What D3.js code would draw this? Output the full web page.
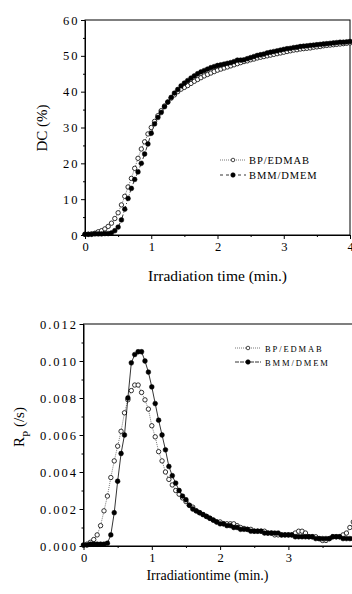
<!DOCTYPE html>
<html>
<head>
<meta charset="utf-8">
<script src="https://cdn.jsdelivr.net/npm/d3@7/dist/d3.min.js"></script>
<style>
  body { margin: 0; background: #fff; }
  svg { display: block; }
  svg text { font-family: "Liberation Serif", "DejaVu Serif", "Times New Roman", serif !important; fill: #000; }
</style>
</head>
<body>
<svg id="chart" width="352" height="594"></svg>
<script>
// sampling times (min.)
const times = [
  0, 0.05, 0.1, 0.15, 0.2, 0.25, 0.3, 0.35, 0.4, 0.45,
  0.5, 0.55, 0.6, 0.65, 0.7, 0.75, 0.8, 0.85, 0.9, 0.95,
  1.0, 1.05, 1.1, 1.15, 1.2, 1.25, 1.3, 1.35, 1.4, 1.45,
  1.5, 1.55, 1.6, 1.65, 1.7, 1.75, 1.8, 1.85, 1.9, 1.95,
  2.0, 2.05, 2.1, 2.15, 2.2, 2.25, 2.3, 2.35, 2.4, 2.45,
  2.5, 2.55, 2.6, 2.65, 2.7, 2.75, 2.8, 2.85, 2.9, 2.95,
  3.0, 3.05, 3.1, 3.15, 3.2, 3.25, 3.3, 3.35, 3.4, 3.45,
  3.5, 3.55, 3.6, 3.65, 3.7, 3.75, 3.8, 3.85, 3.9, 3.95,
  4.0
];

const seriesNames = ['BP/EDMAB', 'BMM/DMEM'];

// degree of conversion DC (%)
const dcBP = [
  0.2, 0.2, 0.3, 0.5, 0.9, 1.2, 1.7, 2.4, 3.3, 4.6,
  6.2, 8.4, 10.8, 13.4, 15.8, 18.6, 21.4, 24.0, 26.0, 28.2,
  30.0, 31.7, 33.3, 34.7, 36.0, 37.1, 38.2, 39.1, 40.0, 40.7,
  41.2, 41.7, 42.3, 42.9, 43.4, 43.9, 44.4, 44.8, 45.2, 45.6,
  46.0, 46.3, 46.6, 46.9, 47.2, 47.5, 47.8, 48.1, 48.4, 48.6,
  48.9, 49.1, 49.4, 49.6, 49.8, 50.0, 50.2, 50.4, 50.6, 50.8,
  51.0, 51.2, 51.4, 51.6, 51.7, 51.9, 52.0, 52.1, 52.2, 52.4,
  52.5, 52.6, 52.8, 52.9, 53.0, 53.1, 53.2, 53.3, 53.4, 53.5,
  53.6
];
const dcBMM = [
  0.2, 0.2, 0.2, 0.3, 0.3, 0.3, 0.4, 0.4, 0.6, 1.2,
  2.2, 4.2, 7.2, 10.2, 13.0, 15.5, 17.6, 20.0, 22.6, 25.4,
  28.4, 31.0, 32.8, 34.2, 35.8, 37.1, 38.4, 39.6, 40.6, 41.6,
  42.4, 43.1, 43.8, 44.4, 45.0, 45.5, 45.9, 46.3, 46.7, 47.0,
  47.3, 47.5, 47.7, 47.9, 48.1, 48.4, 48.8, 48.8, 48.9, 49.2,
  49.5, 49.8, 50.1, 50.3, 50.5, 50.8, 51.0, 51.2, 51.4, 51.6,
  51.8, 52.0, 52.1, 52.3, 52.4, 52.6, 52.7, 52.8, 52.9, 53.0,
  53.1, 53.2, 53.3, 53.4, 53.5, 53.6, 53.7, 53.8, 53.8, 53.9,
  54.0
];

// polymerization rate Rp (/s)
const rpBP = [
  0.00005, 0.0001, 0.0002, 0.00035, 0.0006, 0.0011, 0.0019, 0.0027, 0.0037, 0.0046,
  0.0054, 0.0062, 0.0072, 0.0079, 0.0084, 0.0087, 0.0087, 0.0083, 0.0079, 0.0074,
  0.0065, 0.0059, 0.0051, 0.0046, 0.0040, 0.0036, 0.0033, 0.0030, 0.0028, 0.0026,
  0.0024, 0.0022, 0.0021, 0.0019, 0.0018, 0.0017, 0.0016, 0.0015, 0.0014, 0.0013,
  0.0013, 0.0012, 0.0012, 0.0012, 0.0012, 0.0011, 0.0010, 0.00095, 0.0009, 0.0009,
  0.0008, 0.0008, 0.0008, 0.0008, 0.0007, 0.0007, 0.0006, 0.0006, 0.0006, 0.0006,
  0.0006, 0.0006, 0.0007, 0.0008, 0.0008, 0.0007, 0.0005, 0.0005, 0.0005, 0.0004,
  0.0003, 0.0003, 0.0004, 0.0005, 0.0005, 0.0005, 0.0006, 0.0007, 0.0010, 0.0013,
  0.0016
];
const rpBMM = [
  0.00005, 0.00005, 0.0001, 0.0001, 0.0001, 0.0001, 0.0001, 0.00015, 0.0006, 0.0018,
  0.0035, 0.0050, 0.0060, 0.0080, 0.0099, 0.01035, 0.0105, 0.0105, 0.0100, 0.0094,
  0.0086, 0.0077, 0.0068, 0.0060, 0.0052, 0.0043, 0.0038, 0.0034, 0.0030, 0.0027,
  0.0025, 0.0022, 0.0020, 0.0019, 0.0018, 0.0017, 0.0016, 0.0015, 0.0014, 0.0013,
  0.0012, 0.0012, 0.0011, 0.0011, 0.0010, 0.0010, 0.0009, 0.0009, 0.0009, 0.0008,
  0.0008, 0.0008, 0.0008, 0.0007, 0.0007, 0.0007, 0.0007, 0.0007, 0.0006, 0.0006,
  0.0006, 0.0006, 0.0005, 0.0005, 0.0005, 0.0005, 0.0005, 0.0005, 0.0004, 0.0004,
  0.0004, 0.0004, 0.0004, 0.0005, 0.0005, 0.0005, 0.0004, 0.0004, 0.0004, 0.0004,
  0.0004
];

const dcTicks = [0, 10, 20, 30, 40, 50, 60];
const rpTicks = [0, 0.002, 0.004, 0.006, 0.008, 0.010, 0.012];
const timeTicks = [0, 1, 2, 3, 4];

const svg = d3.select('#chart');

function drawPanel(opts) {
  const x = d3.scaleLinear().domain([0, 4]).range([opts.left, opts.right]);
  const y = d3.scaleLinear().domain(opts.yDomain).range([opts.bottom, opts.top]);
  const g = svg.append('g');

  // frame
  g.append('rect')
    .attr('x', opts.left).attr('y', opts.top)
    .attr('width', opts.right - opts.left).attr('height', opts.bottom - opts.top)
    .attr('fill', 'none').attr('stroke', '#000').attr('stroke-width', 1);

  // minor ticks
  g.append('g')
    .attr('transform', `translate(0,${opts.bottom})`)
    .call(d3.axisBottom(x).tickValues([0.5, 1.5, 2.5, 3.5]).tickSize(2).tickFormat(''))
    .call(a => a.select('.domain').remove());
  g.append('g')
    .attr('transform', `translate(${opts.left},0)`)
    .call(d3.axisLeft(y).tickValues(opts.yMinor).tickSize(2).tickFormat(''))
    .call(a => a.select('.domain').remove());

  // major axes
  const xa = g.append('g')
    .attr('transform', `translate(0,${opts.bottom})`)
    .call(d3.axisBottom(x).tickValues(timeTicks).tickSize(4).tickSizeOuter(0).tickPadding(3)
      .tickFormat(d3.format('d')));
  const ya = g.append('g')
    .attr('transform', `translate(${opts.left},0)`)
    .call(d3.axisLeft(y).tickValues(opts.yTicks).tickSize(4).tickSizeOuter(0).tickPadding(1.5)
      .tickFormat(opts.yFormat));
  [xa, ya].forEach(a => {
    a.attr('font-family', null);
    a.selectAll('text').style('font-size', '12.5px').style('letter-spacing', '2px');
    a.selectAll('line, path').attr('stroke', '#000');
  });
  xa.selectAll('text').attr('dx', '1px');

  // series
  const clipId = 'clip' + opts.id;
  svg.append('clipPath').attr('id', clipId).append('rect')
    .attr('x', opts.left - 4).attr('y', opts.top - 4)
    .attr('width', opts.right - opts.left + 8).attr('height', opts.bottom - opts.top + 8);
  const plot = g.append('g').attr('clip-path', `url(#${clipId})`);

  opts.series.forEach((s, si) => {
    const pts = times.map((t, i) => ({ t, v: s.values[i] }));
    plot.append('path')
      .datum(pts)
      .attr('fill', 'none')
      .attr('stroke', s.lineColor)
      .attr('stroke-width', 0.8)
      .attr('stroke-dasharray', s.dash)
      .attr('d', d3.line().x(d => x(d.t)).y(d => y(d.v)));
    plot.selectAll('.m' + si)
      .data(pts)
      .enter().append('circle')
      .attr('cx', d => x(d.t))
      .attr('cy', d => y(d.v))
      .attr('r', s.filled ? 2.4 : 2.2)
      .attr('fill', s.filled ? '#000' : '#fff')
      .attr('stroke', '#000')
      .attr('stroke-width', s.filled ? 0.5 : 0.8);
  });

  // legend
  opts.series.forEach((s, si) => {
    const ly = opts.legend.y + si * opts.legend.dy;
    const lx = opts.legend.x;
    g.append('line')
      .attr('x1', lx).attr('x2', lx + 26).attr('y1', ly).attr('y2', ly)
      .attr('stroke', s.lineColor).attr('stroke-width', 0.8)
      .attr('stroke-dasharray', s.legendDash);
    g.append('circle')
      .attr('cx', lx + 13).attr('cy', ly)
      .attr('r', s.filled ? 2.2 : 1.8)
      .attr('fill', s.filled ? '#000' : '#fff')
      .attr('stroke', '#000').attr('stroke-width', 0.7);
    g.append('text')
      .attr('x', lx + opts.legend.textGap).attr('y', ly + 3.5)
      .style('font-size', opts.legend.fontSize + 'px')
      .style('letter-spacing', opts.legend.spacing + 'px')
      .text(seriesNames[si]);
  });

  return { x, y, g };
}

// top panel: DC (%)
const dcPanel = drawPanel({
  id: 'a', left: 85, right: 350, top: 20, bottom: 235,
  yDomain: [0, 60], yTicks: dcTicks, yMinor: [5, 15, 25, 35, 45, 55],
  yFormat: d3.format('d'),
  series: [
    { values: dcBP, filled: false, lineColor: '#555', dash: '1,1', legendDash: '1,1' },
    { values: dcBMM, filled: true, lineColor: '#000', dash: '4,2,1,2', legendDash: '3,3' }
  ],
  legend: { x: 220, y: 160, dy: 15, textGap: 29, fontSize: 10.5, spacing: 0.9 }
});
dcPanel.g.append('text')
  .attr('transform', 'translate(47,128) rotate(-90)')
  .attr('text-anchor', 'middle')
  .style('font-size', '15px')
  .text('DC (%)');
dcPanel.g.append('text')
  .attr('x', 217.5).attr('y', 281)
  .attr('text-anchor', 'middle')
  .style('font-size', '15.5px')
  .text('Irradiation time (min.)');

// bottom panel: Rp (/s)
const rpPanel = drawPanel({
  id: 'b', left: 83.5, right: 356.7, top: 324, bottom: 546,
  yDomain: [0, 0.012], yTicks: rpTicks, yMinor: [0.001, 0.003, 0.005, 0.007, 0.009, 0.011],
  yFormat: d3.format('.3f'),
  series: [
    { values: rpBP, filled: false, lineColor: '#555', dash: '1,1', legendDash: '1,1' },
    { values: rpBMM, filled: true, lineColor: '#000', dash: null, legendDash: '4,1' }
  ],
  legend: { x: 235, y: 348, dy: 14, textGap: 30, fontSize: 8.5, spacing: 1.9 }
});
const rpLabel = rpPanel.g.append('text')
  .attr('transform', 'translate(24,427) rotate(-90)')
  .attr('text-anchor', 'middle')
  .style('font-size', '15px');
rpLabel.append('tspan').text('R');
rpLabel.append('tspan').attr('baseline-shift', 'sub').style('font-size', '11px').text('P');
rpLabel.append('tspan').text(' (/s)');
rpPanel.g.append('text')
  .attr('x', 207.5).attr('y', 580)
  .attr('text-anchor', 'middle')
  .style('font-size', '14px')
  .text('Irradiationtime (min.)');
</script>
</body>
</html>
